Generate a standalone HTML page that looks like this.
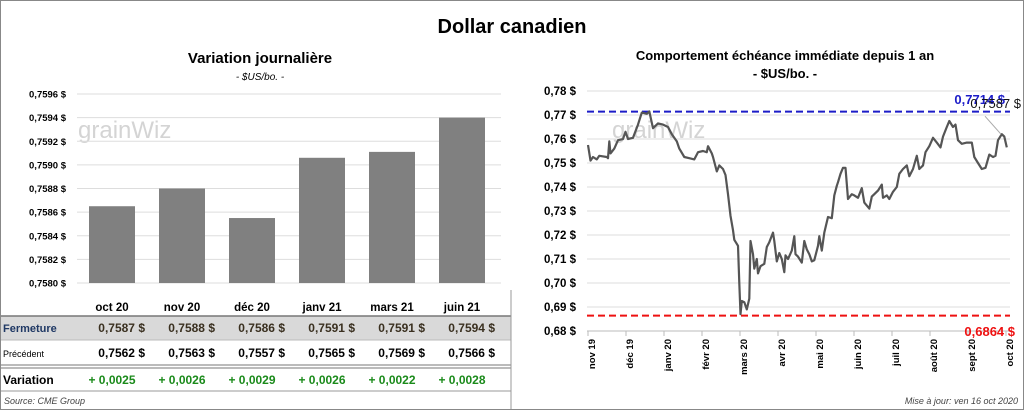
<!DOCTYPE html>
<html><head><meta charset="utf-8"><style>
body{margin:0;width:1024px;height:410px;background:#fff;font-family:"Liberation Sans",Arial,sans-serif;overflow:hidden}
svg text{font-family:"Liberation Sans",Arial,sans-serif}
</style></head><body>
<svg id="s" width="1024" height="410">
<rect x="0.5" y="0.5" width="1023" height="409" fill="#fff" stroke="#888"/>
<text x="512" y="33" text-anchor="middle" font-size="20" font-weight="bold">Dollar canadien</text>
<text x="260" y="63" text-anchor="middle" font-size="15" font-weight="bold">Variation  journalière</text>
<text x="260" y="80" text-anchor="middle" font-size="10" font-style="italic">- $US/bo. -</text>
<text x="785" y="60" text-anchor="middle" font-size="13" font-weight="bold">Comportement échéance immédiate depuis 1 an</text>
<text x="785" y="78" text-anchor="middle" font-size="13" font-weight="bold">- $US/bo. -</text>
<text x="78" y="138" font-size="24" fill="#d4d4d4">grainWiz</text>
<text x="612" y="138" font-size="24" fill="#d4d4d4">grainWiz</text>
<g id="left"></g><g id="right"></g><g id="tbl"></g>
<text x="4" y="404" font-size="9" font-style="italic" fill="#444">Source: CME Group</text>
<text x="1018" y="404" text-anchor="end" font-size="9" font-style="italic" fill="#444">Mise à jour: ven 16 oct 2020</text>
</svg>
<script>
const months=["oct 20","nov 20","déc 20","janv 21","mars 21","juin 21"];
const barVals=[0.75865,0.7588,0.75855,0.75906,0.75911,0.7594];
const closeVals=[0.7587,0.7588,0.7586,0.7591,0.7591,0.7594];
const prevVals=[0.7562,0.7563,0.7557,0.7565,0.7569,0.7566];
const variations=[0.0025,0.0026,0.0029,0.0026,0.0022,0.0028];
const leftTicks=[0.7580,0.7582,0.7584,0.7586,0.7588,0.7590,0.7592,0.7594,0.7596];
const days=[0,2,4,7,9,15,16,17,18,21,24,28,30,32,36,40,43,47,49,52,56,60,64,67,71,73,77,81,85,88,92,95,96,99,100,103,105,108,110,112,114,116,117,120,121,122,123,125,127,129,130,132,133,135,136,138,141,143,145,148,149,151,153,155,157,158,160,163,165,166,168,171,173,175,177,179,181,184,185,187,189,192,195,197,199,200,202,204,206,208,211,213,216,219,221,225,227,229,232,235,236,239,241,244,247,249,252,255,257,260,263,265,268,270,273,276,279,282,284,287,289,292,294,296,299,303,307,309,312,315,318,321,324,326,328,331,333,335];
const prices=[0.7575,0.751,0.7525,0.7515,0.753,0.7525,0.752,0.759,0.754,0.756,0.7595,0.760,0.763,0.760,0.7605,0.766,0.771,0.7705,0.7715,0.7645,0.7665,0.766,0.765,0.762,0.759,0.756,0.7525,0.752,0.7515,0.7545,0.755,0.7545,0.757,0.754,0.7525,0.7465,0.749,0.7475,0.745,0.737,0.728,0.722,0.718,0.7155,0.700,0.687,0.6925,0.692,0.689,0.6935,0.7175,0.712,0.706,0.710,0.704,0.707,0.708,0.715,0.717,0.721,0.7175,0.709,0.7125,0.710,0.7045,0.7115,0.710,0.7135,0.7195,0.712,0.711,0.7085,0.7175,0.714,0.712,0.709,0.7095,0.7155,0.7195,0.7135,0.721,0.7275,0.727,0.7365,0.7405,0.742,0.7455,0.748,0.748,0.735,0.737,0.7365,0.7355,0.7395,0.7335,0.731,0.736,0.737,0.7385,0.741,0.7355,0.7365,0.735,0.738,0.740,0.7455,0.7475,0.749,0.7445,0.7475,0.753,0.7475,0.749,0.7545,0.757,0.7605,0.7585,0.7565,0.761,0.765,0.7675,0.765,0.766,0.7595,0.758,0.7585,0.7585,0.7525,0.750,0.7475,0.748,0.7535,0.7525,0.753,0.7595,0.762,0.761,0.7565];
const rightTicks=[0.68,0.69,0.70,0.71,0.72,0.73,0.74,0.75,0.76,0.77,0.78];
const monthLabels=["nov 19","déc 19","janv 20","févr 20","mars 20","avr 20","mai 20","juin 20","juil 20","août 20","sept 20","oct 20"];
const highVal=0.7714, lowVal=0.6864, lastVal=0.7587;
const NS="http://www.w3.org/2000/svg";
function mk(p,t,a,txt){const e=document.createElementNS(NS,t);for(const k in a)e.setAttribute(k,a[k]);if(txt!==undefined)e.textContent=txt;p.appendChild(e);return e;}
const fmt=(v,d)=>v.toFixed(d).replace('.',',');
const L=document.getElementById('left');
const ly=v=>283-(v-0.7580)/(0.7596-0.7580)*189;
leftTicks.forEach(t=>{
 const g=mk(L,'line',{x1:77,x2:501,y1:ly(t),y2:ly(t),stroke:'#ddd'});
 
 const tx=mk(L,'text',{x:66,y:ly(t)+3.5,'text-anchor':'end','font-size':9.5,'font-weight':'bold'},fmt(t,4)+' $');
 
});
const colX=i=>112+i*70;
barVals.forEach((v,i)=>{
 const r=mk(L,'rect',{x:colX(i)-23,y:ly(v),width:46,height:283-ly(v),fill:'#808080'});
 
});
const T=document.getElementById('tbl');
mk(T,'rect',{x:1,y:316,width:510,height:24,fill:'#d9d9d9'});
mk(T,'line',{x1:1,x2:511,y1:316,y2:316,stroke:'#777','stroke-width':1.5});
mk(T,'line',{x1:1,x2:511,y1:340,y2:340,stroke:'#bbb'});
mk(T,'line',{x1:1,x2:511,y1:365,y2:365,stroke:'#777'});
mk(T,'line',{x1:1,x2:511,y1:368,y2:368,stroke:'#777'});
mk(T,'line',{x1:1,x2:511,y1:391,y2:391,stroke:'#999'});
mk(T,'line',{x1:511,x2:511,y1:290,y2:409,stroke:'#999'});
let e;
e=mk(T,'text',{x:3,y:332,'font-size':11,'font-weight':'bold',fill:'#1f3864'},'Fermeture');
e=mk(T,'text',{x:3,y:357,'font-size':9},'Précédent');
e=mk(T,'text',{x:3,y:384,'font-size':12,'font-weight':'bold'},'Variation');
months.forEach((m,i)=>{
 const cx=colX(i);
 e=mk(T,'text',{x:cx,y:311,'text-anchor':'middle','font-size':11.5,'font-weight':'bold'},m);
 e=mk(T,'text',{x:cx+33,y:332,'text-anchor':'end','font-size':12,'font-weight':'bold',fill:'#3a3020'},fmt(closeVals[i],4)+'  $');
 e=mk(T,'text',{x:cx+33,y:357,'text-anchor':'end','font-size':12,'font-weight':'bold'},fmt(prevVals[i],4)+'  $');
 e=mk(T,'text',{x:cx,y:384,'text-anchor':'middle','font-size':12,'font-weight':'bold',fill:'#1a8a1a'},'+ '+fmt(variations[i],4));
});
const R=document.getElementById('right');
const ry=v=>331-(v-0.68)/0.10*240;
const rx=d=>588+d*1.25;
rightTicks.forEach(t=>{
 e=mk(R,'line',{x1:587,x2:1010,y1:ry(t),y2:ry(t),stroke:'#ddd'});
 e=mk(R,'text',{x:576,y:ry(t)+4,'text-anchor':'end','font-size':11.5,'font-weight':'bold'},fmt(t,2)+' $');
});
mk(R,'line',{x1:587,x2:1010,y1:331,y2:331,stroke:'#bbb'});
monthLabels.forEach((m,i)=>{
 const x=rx(i*30.4);
 mk(R,'line',{x1:x,x2:x,y1:331,y2:336,stroke:'#bbb'});
 e=mk(R,'text',{x:0,y:0,'text-anchor':'end','font-size':9.5,'font-weight':'bold',transform:`translate(${x+7},339) rotate(-90)`},m);
});
e=mk(R,'line',{x1:587,x2:1010,y1:ry(highVal),y2:ry(highVal),stroke:'#1c1cc8','stroke-width':2,'stroke-dasharray':'7,4'});
e=mk(R,'line',{x1:587,x2:1010,y1:ry(lowVal),y2:ry(lowVal),stroke:'#ee1111','stroke-width':2,'stroke-dasharray':'7,4'});
let d='';days.forEach((dd,i)=>{d+=(i?'L':'M')+rx(dd).toFixed(1)+','+ry(prices[i]).toFixed(1);});
e=mk(R,'path',{d:d,fill:'none',stroke:'#555','stroke-width':2.2,'stroke-linejoin':'round'});
mk(R,'line',{x1:1001,x2:985,y1:ry(0.762),y2:ry(0.7695),stroke:'#aaa'});
e=mk(R,'text',{x:1005,y:104,'text-anchor':'end','font-size':13,'font-weight':'bold',fill:'#1c1cc8'},fmt(highVal,4)+' $');
e=mk(R,'text',{x:1021,y:108,'text-anchor':'end','font-size':13,fill:'#111'},fmt(lastVal,4)+' $');
e=mk(R,'text',{x:1015,y:336,'text-anchor':'end','font-size':13,'font-weight':'bold',fill:'#ee1111'},fmt(lowVal,4)+' $');
</script>
</body></html>
